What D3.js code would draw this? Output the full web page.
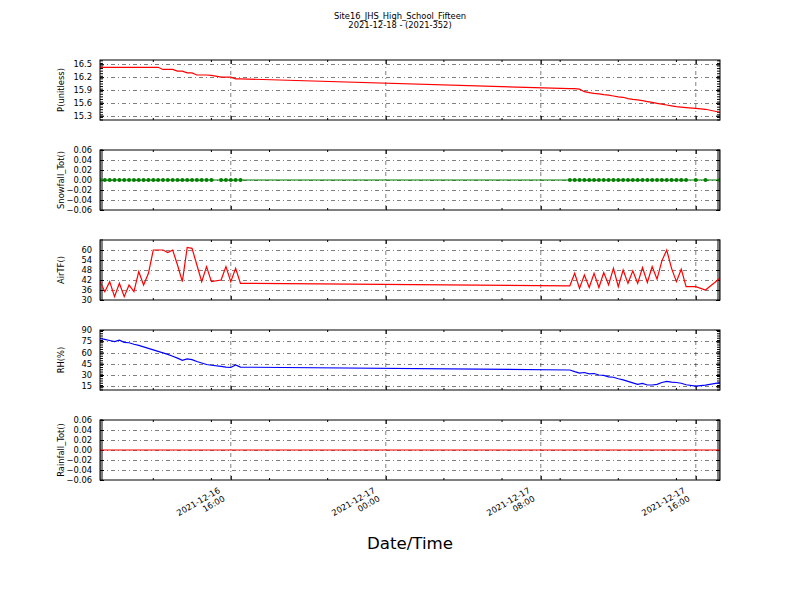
<!DOCTYPE html>
<html><head><meta charset="utf-8">
<script src="https://cdn.jsdelivr.net/npm/d3@7"></script>
<style>body{margin:0;background:#fff} text{font-family:"DejaVu Sans",sans-serif}</style>
</head><body><svg id="c" width="800" height="600"></svg>
<script>
const titleLines = ["Site16_JHS_High_School_Fifteen", "2021-12-18 - (2021-352)"];
const xAxisTitle = "Date/Time";

const times = [
"2021-12-16 09:15","2021-12-16 09:30","2021-12-16 09:45","2021-12-16 10:00","2021-12-16 10:15","2021-12-16 10:30","2021-12-16 10:45","2021-12-16 11:00","2021-12-16 11:15","2021-12-16 11:30","2021-12-16 11:45","2021-12-16 12:00","2021-12-16 12:15","2021-12-16 12:30","2021-12-16 12:45","2021-12-16 13:00","2021-12-16 13:15","2021-12-16 13:30","2021-12-16 13:45","2021-12-16 14:00","2021-12-16 14:15","2021-12-16 14:30","2021-12-16 14:45","2021-12-16 15:00","2021-12-16 15:30","2021-12-16 15:45","2021-12-16 16:00","2021-12-16 16:15","2021-12-16 16:30",
"2021-12-17 09:30","2021-12-17 09:45","2021-12-17 10:00","2021-12-17 10:15","2021-12-17 10:30","2021-12-17 10:45","2021-12-17 11:00","2021-12-17 11:15","2021-12-17 11:30","2021-12-17 11:45","2021-12-17 12:00","2021-12-17 12:15","2021-12-17 12:30","2021-12-17 12:45","2021-12-17 13:00","2021-12-17 13:15","2021-12-17 13:30","2021-12-17 13:45","2021-12-17 14:00","2021-12-17 14:15","2021-12-17 14:30","2021-12-17 14:45","2021-12-17 15:00","2021-12-17 15:15","2021-12-17 15:30","2021-12-17 16:00","2021-12-17 16:30","2021-12-17 17:15"];

const pressure = [16.43,16.43,16.43,16.43,16.43,16.43,16.43,16.43,16.43,16.43,16.43,16.43,16.43,16.38,16.38,16.38,16.34,16.34,16.30,16.30,16.25,16.25,16.25,16.24,16.20,16.20,16.20,16.16,16.16,
15.93,15.93,15.92,15.86,15.84,15.82,15.81,15.79,15.78,15.76,15.74,15.73,15.70,15.68,15.67,15.65,15.63,15.61,15.59,15.57,15.55,15.53,15.51,15.50,15.49,15.47,15.45,15.38];

const snowfall = [0,0,0,0,0,0,0,0,0,0,0,0,0,0,0,0,0,0,0,0,0,0,0,0,0,0,0,0,0,
0,0,0,0,0,0,0,0,0,0,0,0,0,0,0,0,0,0,0,0,0,0,0,0,0,0,0,0];

const airTF = [41,35,41,32,40,32,39,35,47,39,46,60,60,60,58.5,60,51,41,61.5,61,51,41,50,41,42,50,41,49,40,
38.5,46,37,45,37.5,46,37.5,46.5,39,49,38,48,40,47.5,40,49.5,40.5,50,42.5,53.5,60,49,41,48.5,38,38,36,43];

const rh = [78.5,77.5,76,74.5,76.5,73.5,73,71,69.5,67.5,65.5,63.5,61.5,59.5,57.5,55,52.5,49.5,51.5,50.5,48,46,44,43,41.5,40.5,40,43.5,40.5,
36.7,34.5,32.5,33.3,31.5,32,30,29.5,27.5,27,25,23.5,21.5,19.5,17.5,18.8,16.7,16.7,17.5,20,21.5,20.5,20,19,17,15.3,16.5,19.8];

const rainfall = [0,0,0,0,0,0,0,0,0,0,0,0,0,0,0,0,0,0,0,0,0,0,0,0,0,0,0,0,0,
0,0,0,0,0,0,0,0,0,0,0,0,0,0,0,0,0,0,0,0,0,0,0,0,0,0,0,0];

const panelLabels = ["P(unitless)", "Snowfall_Tot()", "AirTF()", "RH(%)", "Rainfall_Tot()"];
const panelColors = ["#ff0000", "#008000", "#ff0000", "#0000ff", "#ff0000"];
const pTicks = [15.3, 15.6, 15.9, 16.2, 16.5];
const smallTicks = [-0.06, -0.04, -0.02, 0, 0.02, 0.04, 0.06];
const airTicks = [30, 36, 42, 48, 54, 60];
const rhTicks = [15, 30, 45, 60, 75, 90];
const xMajorTicks = ["2021-12-16 16:00", "2021-12-17 00:00", "2021-12-17 08:00", "2021-12-17 16:00"];
const xMinorTicks = ["2021-12-16 12:00","2021-12-16 15:00","2021-12-16 18:00","2021-12-16 21:00","2021-12-17 03:00","2021-12-17 06:00","2021-12-17 09:00","2021-12-17 12:00","2021-12-17 15:00"];

const parse = d3.timeParse("%Y-%m-%d %H:%M");
const T = times.map(parse);

const panels = [
  {label: panelLabels[0], values: pressure, domain: [15.2, 16.6], ticks: pTicks, fmt: d3.format(".1f"), color: panelColors[0], marker: false},
  {label: panelLabels[1], values: snowfall, domain: [-0.06, 0.06], ticks: smallTicks, fmt: d3.format(".2f"), color: panelColors[1], marker: true},
  {label: panelLabels[2], values: airTF, domain: [30, 66], ticks: airTicks, fmt: d3.format("d"), color: panelColors[2], marker: false},
  {label: panelLabels[3], values: rh, domain: [10, 90], ticks: rhTicks, fmt: d3.format("d"), color: panelColors[3], marker: false},
  {label: panelLabels[4], values: rainfall, domain: [-0.06, 0.06], ticks: smallTicks, fmt: d3.format(".2f"), color: panelColors[4], marker: false}
];

const svg = d3.select("#c");
const L = 100, R = 720, H = 60, tops = [60, 150, 240, 330, 420];
const x = d3.scaleTime().domain(d3.extent(T)).range([L, R]);
const fs = 8.33;

svg.append("text").attr("x", 400).attr("y", 18.5).attr("text-anchor", "middle").attr("font-size", fs).text(titleLines[0]);
svg.append("text").attr("x", 400).attr("y", 28.3).attr("text-anchor", "middle").attr("font-size", fs).text(titleLines[1]);

const majT = xMajorTicks.map(parse), minT = xMinorTicks.map(parse);

panels.forEach((p, i) => {
  const top = tops[i], bot = top + H;
  const y = d3.scaleLinear().domain(p.domain).range([bot, top]);
  const g = svg.append("g");
  const clipId = "clip" + i;
  svg.append("clipPath").attr("id", clipId).append("rect").attr("x", L).attr("y", top).attr("width", R - L).attr("height", H);

  // grid
  const grid = g.append("g").attr("stroke", "#000").attr("stroke-width", 0.5).attr("stroke-dasharray", "4,3,1,3");
  grid.selectAll(".hg").data(p.ticks.filter(t => y(t) > top + 0.5 && y(t) < bot - 0.5)).join("line")
    .attr("x1", L).attr("x2", R).attr("y1", d => Math.round(y(d)) + 0.5).attr("y2", d => Math.round(y(d)) + 0.5);
  grid.selectAll(".vg").data(majT).join("line")
    .attr("x1", d => x(d)).attr("x2", d => x(d)).attr("y1", top).attr("y2", bot);

  // minor y ticks
  const step = p.ticks[1] - p.ticks[0];
  const minorY = d3.range(p.domain[0], p.domain[1] + step / 20, step / 5);
  const mt = g.append("g").attr("stroke", "#000").attr("stroke-width", 1);
  mt.selectAll(".ml").data(minorY).join("line").attr("x1", L).attr("x2", L + 3).attr("y1", d => y(d)).attr("y2", d => y(d));
  mt.selectAll(".mr").data(minorY).join("line").attr("x1", R).attr("x2", R - 3).attr("y1", d => y(d)).attr("y2", d => y(d));
  // minor x ticks
  mt.selectAll(".mb").data(minT).join("line").attr("x1", d => x(d)).attr("x2", d => x(d)).attr("y1", bot).attr("y2", bot - 2);
  mt.selectAll(".mtp").data(minT).join("line").attr("x1", d => x(d)).attr("x2", d => x(d)).attr("y1", top).attr("y2", top + 2);

  // axes
  const ay = g.append("g").attr("transform", `translate(${L},0)`)
    .call(d3.axisLeft(y).tickValues(p.ticks).tickFormat(p.fmt).tickSize(-4).tickPadding(8));
  ay.select(".domain").remove();
  ay.selectAll("text").attr("font-size", fs).attr("font-family", "DejaVu Sans").attr("fill", "#000");
  const ayr = g.append("g").attr("transform", `translate(${R},0)`)
    .call(d3.axisRight(y).tickValues(p.ticks).tickFormat("").tickSize(-4));
  ayr.select(".domain").remove();
  const axb = g.append("g").attr("transform", `translate(0,${bot})`)
    .call(d3.axisBottom(x).tickValues(majT).tickFormat("").tickSize(-4));
  axb.select(".domain").remove();
  const axt = g.append("g").attr("transform", `translate(0,${top})`)
    .call(d3.axisTop(x).tickValues(majT).tickFormat("").tickSize(-4));
  axt.select(".domain").remove();

  // data
  const line = d3.line().x((d, j) => x(T[j])).y(d => y(d));
  const dg = g.append("g").attr("clip-path", `url(#${clipId})`);
  dg.append("path").datum(p.values).attr("d", line).attr("fill", "none").attr("stroke", p.color).attr("stroke-width", 1.2);
  if (p.marker) {
    dg.selectAll("circle").data(p.values).join("circle").attr("cx", (d, j) => x(T[j])).attr("cy", d => y(d)).attr("r", 2).attr("fill", p.color);
  }

  // frame
  g.append("rect").attr("x", L).attr("y", top).attr("width", R - L).attr("height", H).attr("fill", "none").attr("stroke", "#000").attr("stroke-width", 1);

  // y label
  svg.append("text").attr("transform", `translate(64,${top + H / 2}) rotate(-90)`).attr("text-anchor", "middle")
    .attr("font-size", fs).text(p.label);

  if (i === panels.length - 1) {
    const fmtD = d3.timeFormat("%Y-%m-%d"), fmtH = d3.timeFormat("%H:%M");
    majT.forEach(t => {
      const lg = svg.append("g").attr("transform", `translate(${x(t) - 10},${bot + 12}) rotate(-30)`);
      lg.append("text").attr("text-anchor", "end").attr("font-size", fs).attr("y", 0).text(fmtD(t));
      lg.append("text").attr("text-anchor", "end").attr("font-size", fs).attr("y", 9.5).text(fmtH(t));
    });
  }
});

svg.append("text").attr("x", 410).attr("y", 549).attr("text-anchor", "middle").attr("font-size", 16.67).text(xAxisTitle);
</script></body></html>
